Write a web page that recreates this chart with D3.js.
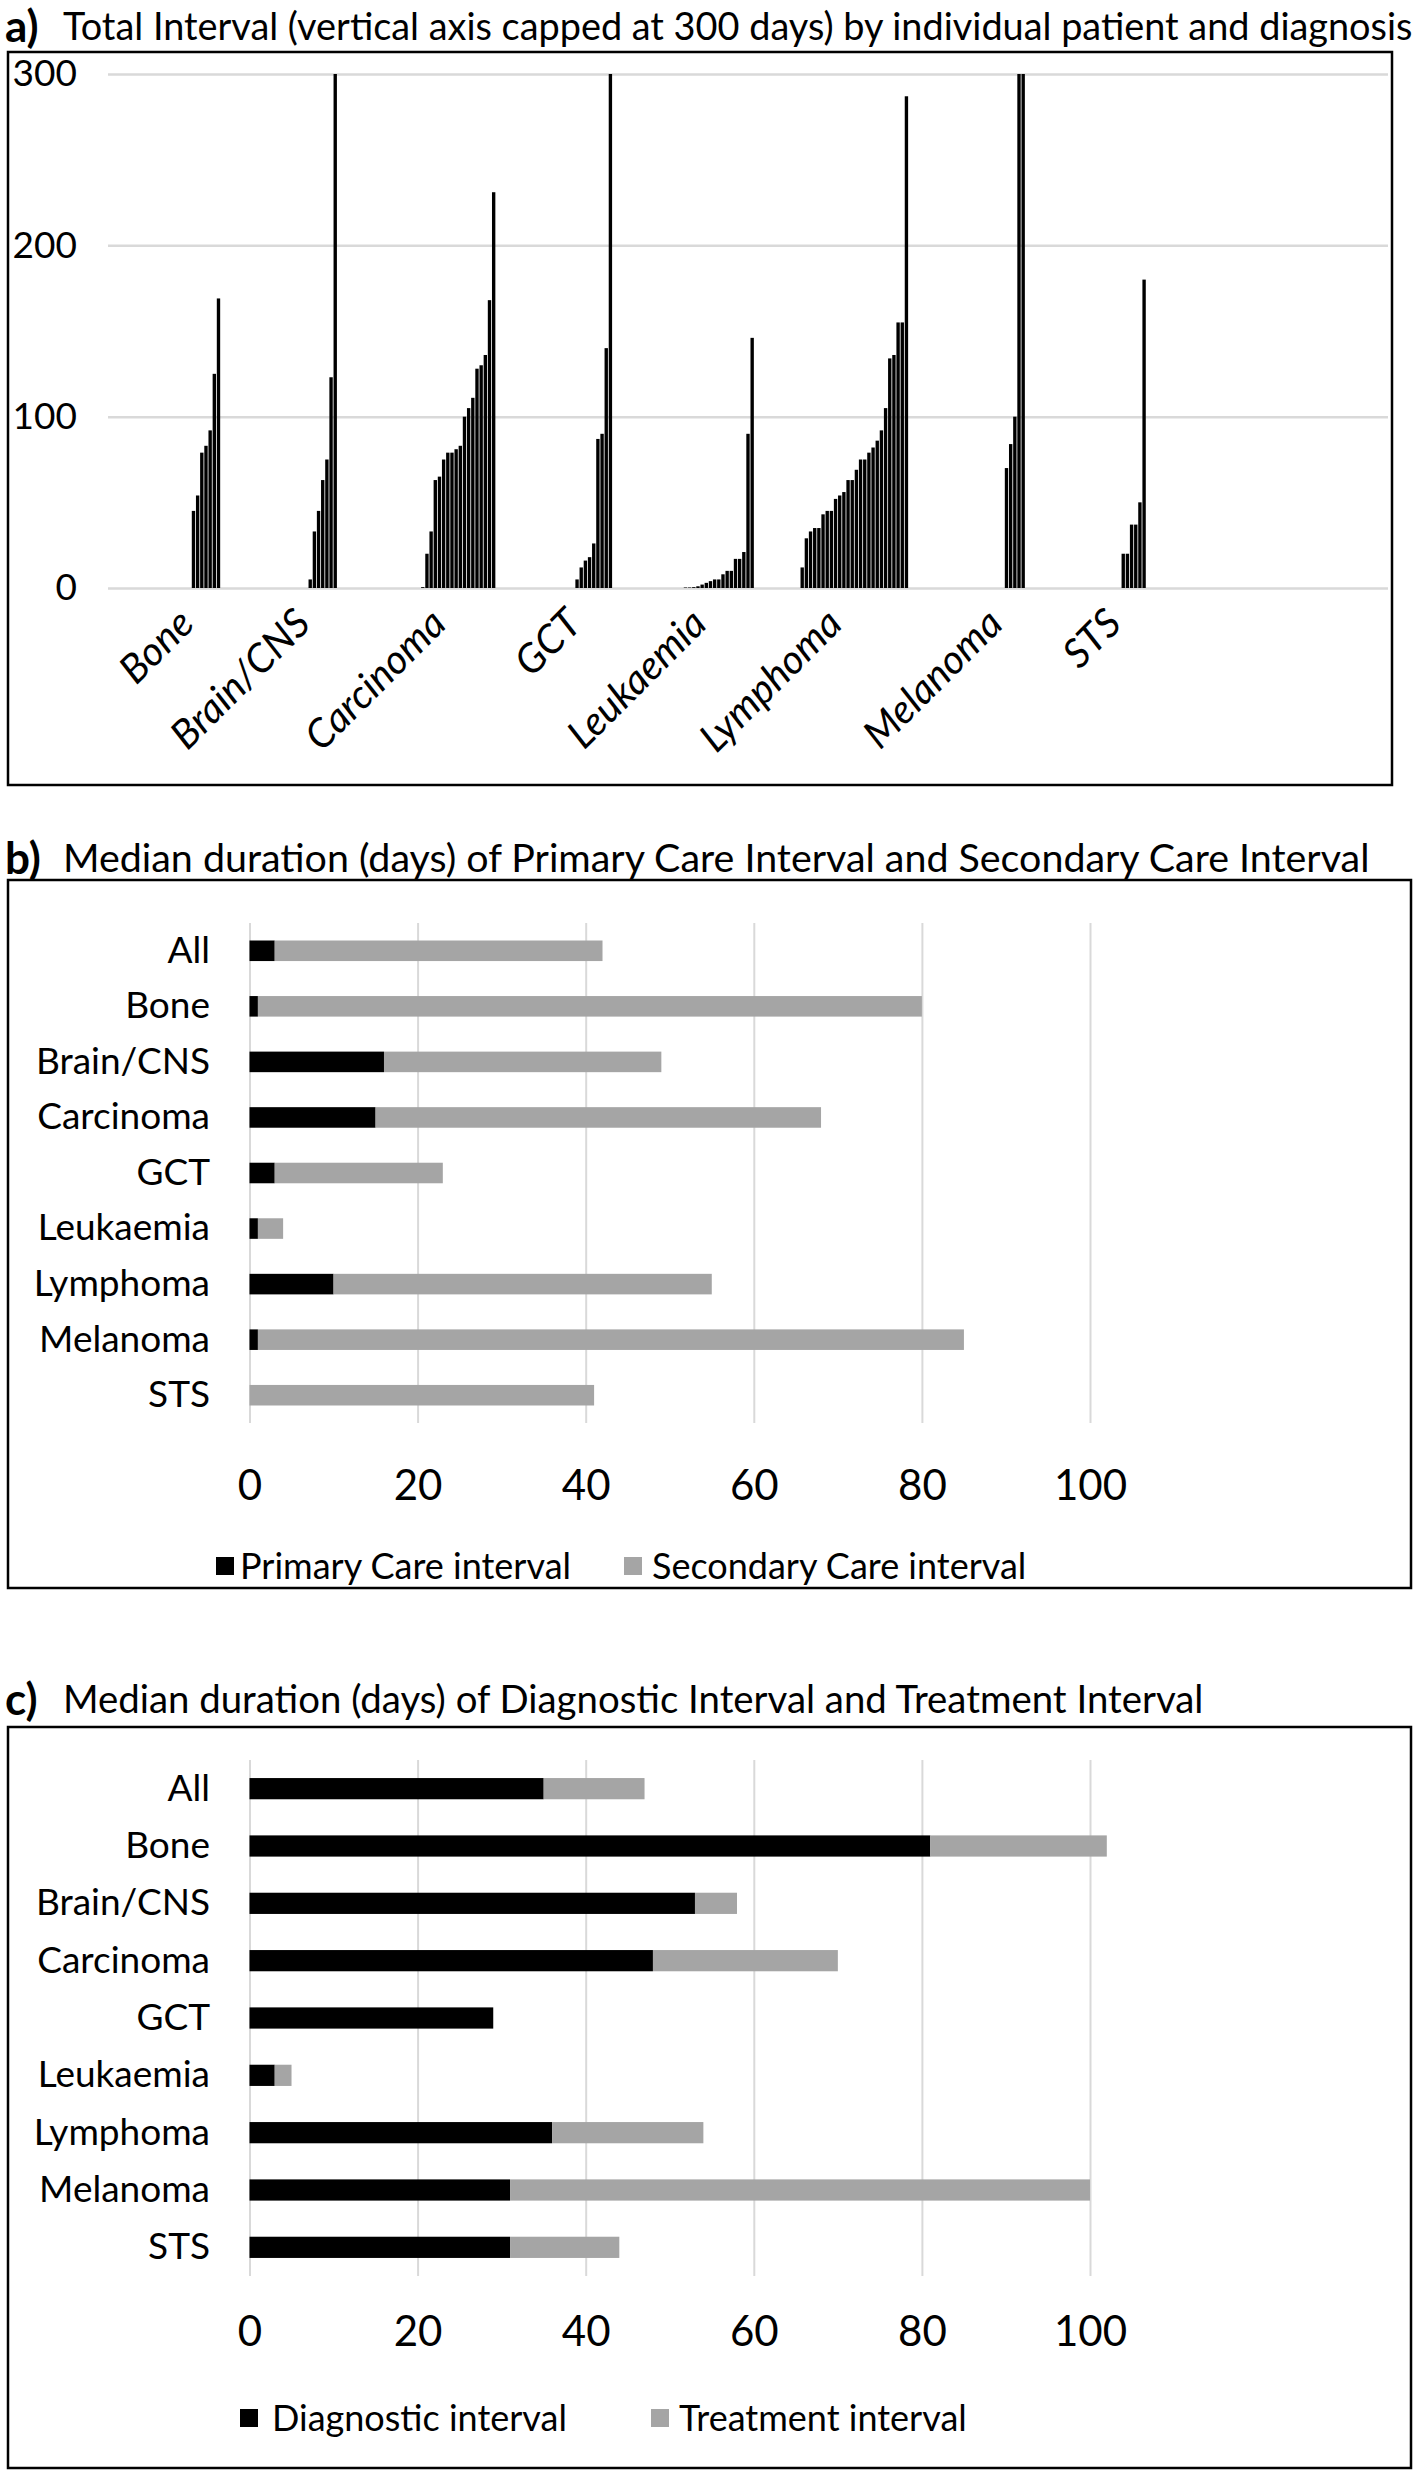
<!DOCTYPE html>
<html>
<head>
<meta charset="utf-8">
<script src="https://cdn.jsdelivr.net/npm/d3@7"></script>
<style>
  body { margin: 0; background: #fff; }
  text { font-family: Lato, "Liberation Sans", sans-serif; fill: #000; }
</style>
</head>
<body>
<svg width="1417" height="2476"></svg>
<script>
// ---- panel a: total interval per patient (days, capped at 300) ----
const diagnoses = ['Bone', 'Brain/CNS', 'Carcinoma', 'GCT', 'Leukaemia', 'Lymphoma', 'Melanoma', 'STS'];
const boneDays = [45, 54, 79, 83, 92, 125, 169];
const brainDays = [5, 33, 45, 63, 75, 123, 300];
const carcinomaDays = [0.5, 20, 33, 63, 65, 75, 79, 79, 81, 83, 100, 105, 111, 128, 130, 136, 168, 231];
const gctDays = [5, 12, 16, 18, 26, 87, 90, 140, 300];
const leukaemiaDays = [0.3, 0.3, 0.5, 1, 2, 3, 4, 5, 5, 8, 10, 10, 17, 17, 21, 90, 146];
const lymphomaDays = [12, 29, 33, 35, 35, 43, 45, 45, 52, 54, 56, 63, 63, 69, 75, 75, 79, 82, 86, 92, 105, 134, 136, 155, 155, 287];
const melanomaDays = [70, 84, 100, 300, 300];
const stsDays = [20, 20, 37, 37, 50, 180];
// empty category slots on the x axis before each diagnosis group, and after the last
const emptySlotsBefore = [20, 21, 20, 19, 17, 11, 23, 23];
const emptySlotsAfter = 58;
const yTicksA = [0, 100, 200, 300];

// ---- panels b and c: medians (days) ----
const rowNames = ['All', 'Bone', 'Brain/CNS', 'Carcinoma', 'GCT', 'Leukaemia', 'Lymphoma', 'Melanoma', 'STS'];
const primaryCare = [3, 1, 16, 15, 3, 1, 10, 1, 0];
const secondaryCare = [39, 79, 33, 53, 20, 3, 45, 84, 41];
const diagnosticInt = [35, 81, 53, 48, 29, 3, 36, 31, 31];
const treatmentInt = [12, 21, 5, 22, 0, 2, 18, 69, 13];
const xTicksBC = [0, 20, 40, 60, 80, 100];

const svg = d3.select('svg');
const black = '#000000', grey = '#a5a5a5', gridGrey = '#d9d9d9';

function fitWidth(sel, w) {
  const cur = sel.node().getComputedTextLength();
  sel.attr('font-size', parseFloat(sel.attr('font-size')) * w / cur);
}

function panelTitle(letter, text, baseline, textWidth) {
  svg.append('text').attr('x', 5).attr('y', baseline + 2)
    .attr('font-size', 44).attr('font-weight', 'bold').text(letter);
  const t = svg.append('text').attr('x', 63).attr('y', baseline)
    .attr('font-size', 32).text(text);
  fitWidth(t, textWidth);
}

function frame(x0, y0, x1, y1) {
  svg.append('rect')
    .attr('x', x0).attr('y', y0)
    .attr('width', x1 - x0).attr('height', y1 - y0)
    .attr('fill', 'none').attr('stroke', black).attr('stroke-width', 2.5);
}

// ================= panel a =================
panelTitle('a)', 'Total Interval (vertical axis capped at 300 days) by individual patient and diagnosis', 40, 1350);
frame(8, 52, 1392, 785);

const patientDays = [boneDays, brainDays, carcinomaDays, gctDays, leukaemiaDays, lymphomaDays, melanomaDays, stsDays];
const groups = [];
const slots = [];
let idx = 0;
diagnoses.forEach((name, i) => {
  idx += emptySlotsBefore[i];
  const g = { name: name, start: idx };
  patientDays[i].forEach((v) => {
    slots.push({ slot: idx, value: v });
    idx += 1;
  });
  g.end = idx - 1;
  groups.push(g);
});
const totalSlots = idx + emptySlotsAfter;

const xa = d3.scaleBand().domain(d3.range(totalSlots)).range([108, 1388]);
const ya = d3.scaleLinear().domain([0, 300]).range([588, 74]).clamp(true);

const gridA = svg.append('g')
  .attr('transform', 'translate(108,0)')
  .call(d3.axisLeft(ya).tickValues(yTicksA).tickSize(-1280).tickFormat(''));
gridA.select('.domain').remove();
gridA.selectAll('line').attr('stroke', gridGrey).attr('stroke-width', 2.5);

const yAxisA = svg.append('g')
  .attr('transform', 'translate(77,0)')
  .call(d3.axisLeft(ya).tickValues(yTicksA).tickSize(0).tickPadding(0));
yAxisA.select('.domain').remove();
yAxisA.selectAll('text')
  .attr('font-size', 37).attr('font-family', null).attr('fill', black);

svg.append('g')
  .selectAll('rect')
  .data(slots)
  .enter()
  .append('rect')
  .attr('x', (d) => xa(d.slot) + 0.4)
  .attr('width', xa.bandwidth() - 0.8)
  .attr('y', (d) => ya(d.value))
  .attr('height', (d) => ya(0) - ya(d.value))
  .attr('fill', black);

svg.append('g')
  .selectAll('text')
  .data(groups)
  .enter()
  .append('text')
  .attr('transform', (d) => {
    const cx = (xa(d.start) + xa(d.end) + xa.bandwidth()) / 2 - 10;
    return 'translate(' + cx + ',626) rotate(-45)';
  })
  .attr('text-anchor', 'end')
  .attr('font-size', 40)
  .attr('font-style', 'italic')
  .text((d) => d.name);

// ================= panels b and c =================
function stackedPanel(cfg) {
  const x = d3.scaleLinear().domain([0, 100]).range([249.5, 1090]);
  const y = d3.scaleBand().domain(rowNames).range([cfg.top, cfg.bottom])
    .paddingInner(0.63).paddingOuter(0.315);

  const grid = svg.append('g')
    .attr('transform', 'translate(0,' + cfg.bottom + ')')
    .call(d3.axisBottom(x).tickValues(xTicksBC).tickSize(-(cfg.bottom - cfg.top)).tickFormat(''));
  grid.select('.domain').remove();
  grid.selectAll('line').attr('stroke', gridGrey).attr('stroke-width', 2);

  const rows = rowNames.map((r, i) => ({ row: r, first: cfg.first[i], second: cfg.second[i] }));
  const stacked = d3.stack().keys(['first', 'second'])(rows);
  const colours = [black, grey];

  svg.append('g')
    .selectAll('g')
    .data(stacked)
    .enter()
    .append('g')
    .attr('fill', (d, i) => colours[i])
    .selectAll('rect')
    .data((d) => d)
    .enter()
    .append('rect')
    .attr('x', (d) => x(d[0]))
    .attr('width', (d) => x(d[1]) - x(d[0]))
    .attr('y', (d) => y(d.data.row))
    .attr('height', y.bandwidth());

  const catAxis = svg.append('g')
    .attr('transform', 'translate(210,0)')
    .call(d3.axisLeft(y).tickSize(0).tickPadding(0));
  catAxis.select('.domain').remove();
  catAxis.selectAll('text')
    .attr('font-size', 37).attr('font-family', null).attr('fill', black);

  const valAxis = svg.append('g')
    .attr('transform', 'translate(0,' + cfg.tickY + ')')
    .call(d3.axisBottom(x).tickValues(xTicksBC).tickSize(0));
  valAxis.select('.domain').remove();
  valAxis.selectAll('text')
    .attr('y', 0).attr('dy', '0.35em')
    .attr('font-size', 42).attr('font-family', null).attr('fill', black);

  const legend = svg.append('g')
    .selectAll('g')
    .data(cfg.legend)
    .enter()
    .append('g')
    .attr('transform', (d) => 'translate(' + d.x + ',' + cfg.legendY + ')');
  legend.append('rect')
    .attr('x', 0).attr('y', -9).attr('width', 18).attr('height', 18)
    .attr('fill', (d, i) => colours[i]);
  legend.append('text')
    .attr('x', (d) => d.textDx)
    .attr('dy', '0.35em')
    .attr('font-size', 36)
    .text((d) => d.label);
}

panelTitle('b)', 'Median duration (days) of Primary Care Interval and Secondary Care Interval', 872, 1307);
frame(8, 880, 1411, 1588);
stackedPanel({
  top: 923, bottom: 1423, tickY: 1485, legendY: 1566,
  first: primaryCare, second: secondaryCare,
  legend: [
    { label: 'Primary Care interval', x: 216, textDx: 24 },
    { label: 'Secondary Care interval', x: 624, textDx: 28 }
  ]
});

panelTitle('c)', 'Median duration (days) of Diagnostic Interval and Treatment Interval', 1713, 1141);
frame(8, 1727, 1411, 2468);
stackedPanel({
  top: 1760, bottom: 2276, tickY: 2331, legendY: 2418,
  first: diagnosticInt, second: treatmentInt,
  legend: [
    { label: 'Diagnostic interval', x: 240, textDx: 32 },
    { label: 'Treatment interval', x: 651, textDx: 28 }
  ]
});
</script>
</body>
</html>
